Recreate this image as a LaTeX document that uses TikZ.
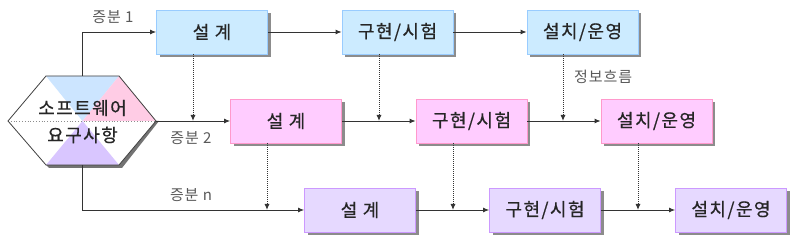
\documentclass[tikz,border=0pt]{standalone}
\usepackage{fontspec}
\setmainfont{Noto Sans CJK KR}
\newfontfamily\boxfont[FakeBold=0.6,LetterSpace=8]{Noto Sans CJK KR}
\newfontfamily\lblfont[LetterSpace=6]{Noto Sans CJK KR}
\usetikzlibrary{arrows.meta,shadows,calc}
\definecolor{bfill}{HTML}{CCEBFF}
\definecolor{bline}{HTML}{99CCFF}
\definecolor{pfill}{HTML}{FFCCFF}
\definecolor{pline}{HTML}{FF99CC}
\definecolor{vfill}{HTML}{E6D9FF}
\definecolor{vline}{HTML}{CC99FF}
\definecolor{tblue}{HTML}{CCE5FF}
\definecolor{tpink}{HTML}{FFCCE5}
\definecolor{tviol}{HTML}{D9C6FF}
\tikzset{
  x=1pt,y=-1pt,
  box/.style={draw, line width=0.8pt, minimum width=111pt, minimum height=44pt, inner sep=0pt,
    font=\boxfont\fontsize{18}{18}\selectfont, text=black!85,
    drop shadow={shadow xshift=3pt, shadow yshift=-3pt, fill=black!45, opacity=1}},
  rowA/.style={box, fill=bfill, draw=bline},
  rowB/.style={box, fill=pfill, draw=pline},
  rowC/.style={box, fill=vfill, draw=vline},
  flow/.style={draw=black!80, line width=0.9pt, -{Latex[length=6pt,width=5pt]}},
  info/.style={draw=black!80, line width=1pt, dash pattern=on 1pt off 1pt, -{Latex[length=6pt,width=5pt]}},
  lbl/.style={font=\lblfont\fontsize{15}{15}\selectfont, text=black!65, inner sep=0pt},
}
\begin{document}
\begin{tikzpicture}
\useasboundingbox (0,0) rectangle (800,245);
% hexagon
\coordinate (hl) at (8,121);
\coordinate (htl) at (46,76);
\coordinate (htr) at (119,76);
\coordinate (hr) at (156,121);
\coordinate (hbr) at (119,165);
\coordinate (hbl) at (46,165);
\coordinate (hc) at (82.5,121);
\fill[black!55] ($(hr)+(3,0)$) -- ($(hbr)+(3,3)$) -- ($(hbl)+(3,3)$) -- (hbl) -- (hbr) -- (hr) -- cycle;
\fill[white] (hl) -- (htl) -- (htr) -- (hr) -- (hbr) -- (hbl) -- cycle;
\fill[tblue] (htl) -- (htr) -- (hc) -- cycle;
\fill[tpink] (htr) -- (hr) -- (hc) -- cycle;
\fill[tviol] (hbl) -- (hbr) -- (hc) -- cycle;
\draw[black!45, line width=0.8pt, dotted] (hl) -- (hr);
\draw[black!75, line width=0.8pt] (hl) -- (htl) -- (htr) -- (hr) -- (hbr) -- (hbl) -- cycle;
\node[font=\boxfont\fontsize{18}{18}\selectfont, text=black!85] (t1) at (82.5,108) {소프트웨어};
\node[font=\boxfont\fontsize{18}{18}\selectfont, text=black!85] (t2) at (82.5,135) {요구사항};

% boxes
\node[rowA] (a1) at (212,32) {설 계};
\node[rowA] (a2) at (397.5,32) {구현/시험};
\node[rowA] (a3) at (582.5,32) {설치/운영};
\node[rowB] (b1) at (286,121) {설 계};
\node[rowB] (b2) at (471.5,121) {구현/시험};
\node[rowB] (b3) at (656.5,121) {설치/운영};
\node[rowC] (c1) at (360,210) {설 계};
\node[rowC] (c2) at (545,210) {구현/시험};
\node[rowC] (c3) at (731,210) {설치/운영};

% increment entry flows
\coordinate (s1) at (82.5,76);
\coordinate (s3) at (82.5,165);
\draw[flow] (s1) |- (a1.west);
\draw[flow] (hr) -- (b1.west);
\draw[flow] (s3) |- (c1.west);
\node[lbl, anchor=south] (l1) at (113,24) {증분 1};
\node[lbl, anchor=north] (l2) at (191,131) {증분 2};
\node[lbl, anchor=south] (l3) at (191,202) {증분 n};

% row flows
\draw[flow] (a1) -- (a2);
\draw[flow] (a2) -- (a3);
\draw[flow] (b1) -- (b2);
\draw[flow] (b2) -- (b3);
\draw[flow] (c1) -- (c2);
\draw[flow] (c2) -- (c3);

% info flows
\draw[info] ([xshift=-19pt]a1.south) -- ([xshift=-19pt]a1.south |- b1.west);
\draw[info] ([xshift=-18.5pt]a2.south) -- ([xshift=-18.5pt]a2.south |- b1.west);
\draw[info] ([xshift=-19.5pt]a3.south) -- ([xshift=-19.5pt]a3.south |- b1.west);
\draw[info] ([xshift=-19pt]b1.south) -- ([xshift=-19pt]b1.south |- c1.west);
\draw[info] ([xshift=-18.5pt]b2.south) -- ([xshift=-18.5pt]b2.south |- c1.west);
\draw[info] ([xshift=-18.5pt]b3.south) -- ([xshift=-18.5pt]b3.south |- c1.west);
\node[lbl, anchor=west] (li) at (574,77) {정보흐름};
\end{tikzpicture}
\end{document}
